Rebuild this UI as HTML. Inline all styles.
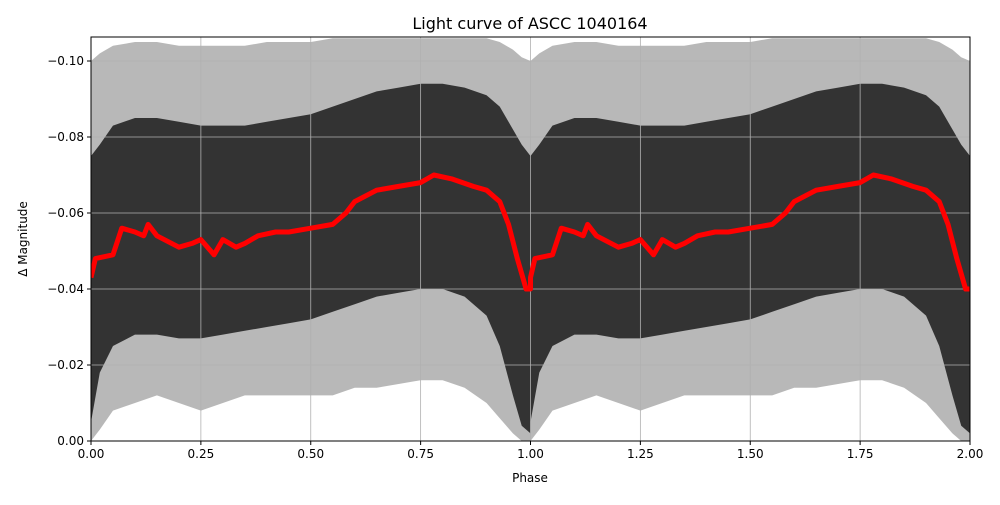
<!DOCTYPE html>
<html><head><meta charset="utf-8"><style>
body{margin:0;background:#fff;font-family:"Liberation Sans","DejaVu Sans",sans-serif}
svg text{font-family:"DejaVu Sans","Liberation Sans",sans-serif;font-size:12px;fill:#000}
</style></head><body>
<svg id="c" width="1000" height="500">
<rect width="1000" height="500" fill="#fff"/>
<text x="530" y="29" text-anchor="middle" style="font-size:16px">Light curve of ASCC 1040164</text>
<g id="plot"></g>
<text x="530" y="482" text-anchor="middle">Phase</text>
<text transform="translate(27,239) rotate(-90)" text-anchor="middle">Δ Magnitude</text>
</svg>
<script>
const phases = [0,0.02,0.05,0.1,0.15,0.2,0.25,0.3,0.35,0.4,0.45,0.5,0.55,0.6,0.65,0.7,0.75,0.8,0.85,0.9,0.93,0.96,0.98,1.0];
const coreUpper = [-0.075,-0.078,-0.083,-0.085,-0.085,-0.084,-0.083,-0.083,-0.083,-0.084,-0.085,-0.086,-0.088,-0.090,-0.092,-0.093,-0.094,-0.094,-0.093,-0.091,-0.088,-0.082,-0.078,-0.075];
const coreLower = [-0.005,-0.018,-0.025,-0.028,-0.028,-0.027,-0.027,-0.028,-0.029,-0.030,-0.031,-0.032,-0.034,-0.036,-0.038,-0.039,-0.040,-0.040,-0.038,-0.033,-0.025,-0.012,-0.004,-0.002];
const outerUpper = [-0.100,-0.102,-0.104,-0.105,-0.105,-0.104,-0.104,-0.104,-0.104,-0.105,-0.105,-0.105,-0.106,-0.106,-0.106,-0.106,-0.106,-0.106,-0.106,-0.106,-0.105,-0.103,-0.101,-0.100];
const outerLower = [0.0,-0.003,-0.008,-0.010,-0.012,-0.010,-0.008,-0.010,-0.012,-0.012,-0.012,-0.012,-0.012,-0.014,-0.014,-0.015,-0.016,-0.016,-0.014,-0.010,-0.006,-0.002,0.0,0.0];
const meanPhase = [0,0.01,0.05,0.07,0.1,0.12,0.13,0.15,0.2,0.23,0.25,0.28,0.3,0.33,0.35,0.38,0.42,0.45,0.5,0.55,0.58,0.6,0.65,0.7,0.75,0.78,0.82,0.87,0.9,0.93,0.95,0.97,0.99,1.0];
const meanMag = [-0.043,-0.048,-0.049,-0.056,-0.055,-0.054,-0.057,-0.054,-0.051,-0.052,-0.053,-0.049,-0.053,-0.051,-0.052,-0.054,-0.055,-0.055,-0.056,-0.057,-0.060,-0.063,-0.066,-0.067,-0.068,-0.070,-0.069,-0.067,-0.066,-0.063,-0.057,-0.048,-0.040,-0.040];
const xTicks = [0,0.25,0.5,0.75,1.0,1.25,1.5,1.75,2.0];
const xTickLabels = ["0.00","0.25","0.50","0.75","1.00","1.25","1.50","1.75","2.00"];
const yTicks = [-0.10,-0.08,-0.06,-0.04,-0.02,0.0];
const yTickLabels = ["−0.10","−0.08","−0.06","−0.04","−0.02","0.00"];

const L=91,R=970,T=37,B=441;
const X=p=>L+(p-0)/(2-0)*(R-L);
const Y=m=>B+(m-0)/(0.02)*76;
const NS="http://www.w3.org/2000/svg";
const g=document.getElementById('plot');
function mk(t,a){const e=document.createElementNS(NS,t);for(const k in a)e.setAttribute(k,a[k]);return e;}
const cp=mk('clipPath',{id:'clip'});cp.appendChild(mk('rect',{x:L,y:T,width:R-L,height:B-T}));g.appendChild(cp);
const inner=mk('g',{'clip-path':'url(#clip)'});g.appendChild(inner);

function band(up,lo,op,name){
  let pts=[];
  for(let c=0;c<2;c++)for(let i=0;i<phases.length;i++)pts.push(X(phases[i]+c)+','+Y(up[i]));
  for(let c=1;c>=0;c--)for(let i=phases.length-1;i>=0;i--)pts.push(X(phases[i]+c)+','+Y(lo[i]));
  const p=mk('polygon',{points:pts.join(' '),fill:'#000','fill-opacity':op});
  
  
  inner.appendChild(p);
}
band(outerUpper,outerLower,0.28,'scatter-outer-cloud');
band(coreUpper,coreLower,0.72,'scatter-core-cloud');

xTicks.forEach((t,i)=>{
  const l=mk('line',{x1:X(t),x2:X(t),y1:T,y2:B,stroke:'#b0b0b0','stroke-width':0.8});
  
  
  inner.appendChild(l);
  g.appendChild(mk('line',{x1:X(t),x2:X(t),y1:B,y2:B+4,stroke:'#000'}));
  const tx=mk('text',{x:X(t),y:B+17,'text-anchor':'middle'});tx.textContent=xTickLabels[i];
  
  
  g.appendChild(tx);
});
yTicks.forEach((t,i)=>{
  const l=mk('line',{x1:L,x2:R,y1:Y(t),y2:Y(t),stroke:'#b0b0b0','stroke-width':0.8});
  
  
  inner.appendChild(l);
  g.appendChild(mk('line',{x1:L-4,x2:L,y1:Y(t),y2:Y(t),stroke:'#000'}));
  const tx=mk('text',{x:L-7,y:Y(t)+4,'text-anchor':'end'});tx.textContent=yTickLabels[i];
  
  
  g.appendChild(tx);
});

let d='';
for(let c=0;c<2;c++)meanPhase.forEach((p,i)=>{d+=(d?'L':'M')+X(p+c)+','+Y(meanMag[i]);});
const rl=mk('path',{d:d,fill:'none',stroke:'#ff0000','stroke-width':5,'stroke-linejoin':'round'});


inner.appendChild(rl);

const fr=mk('rect',{x:L,y:T,width:R-L,height:B-T,fill:'none',stroke:'#000','stroke-width':1});


g.appendChild(fr);
</script>
</body></html>
